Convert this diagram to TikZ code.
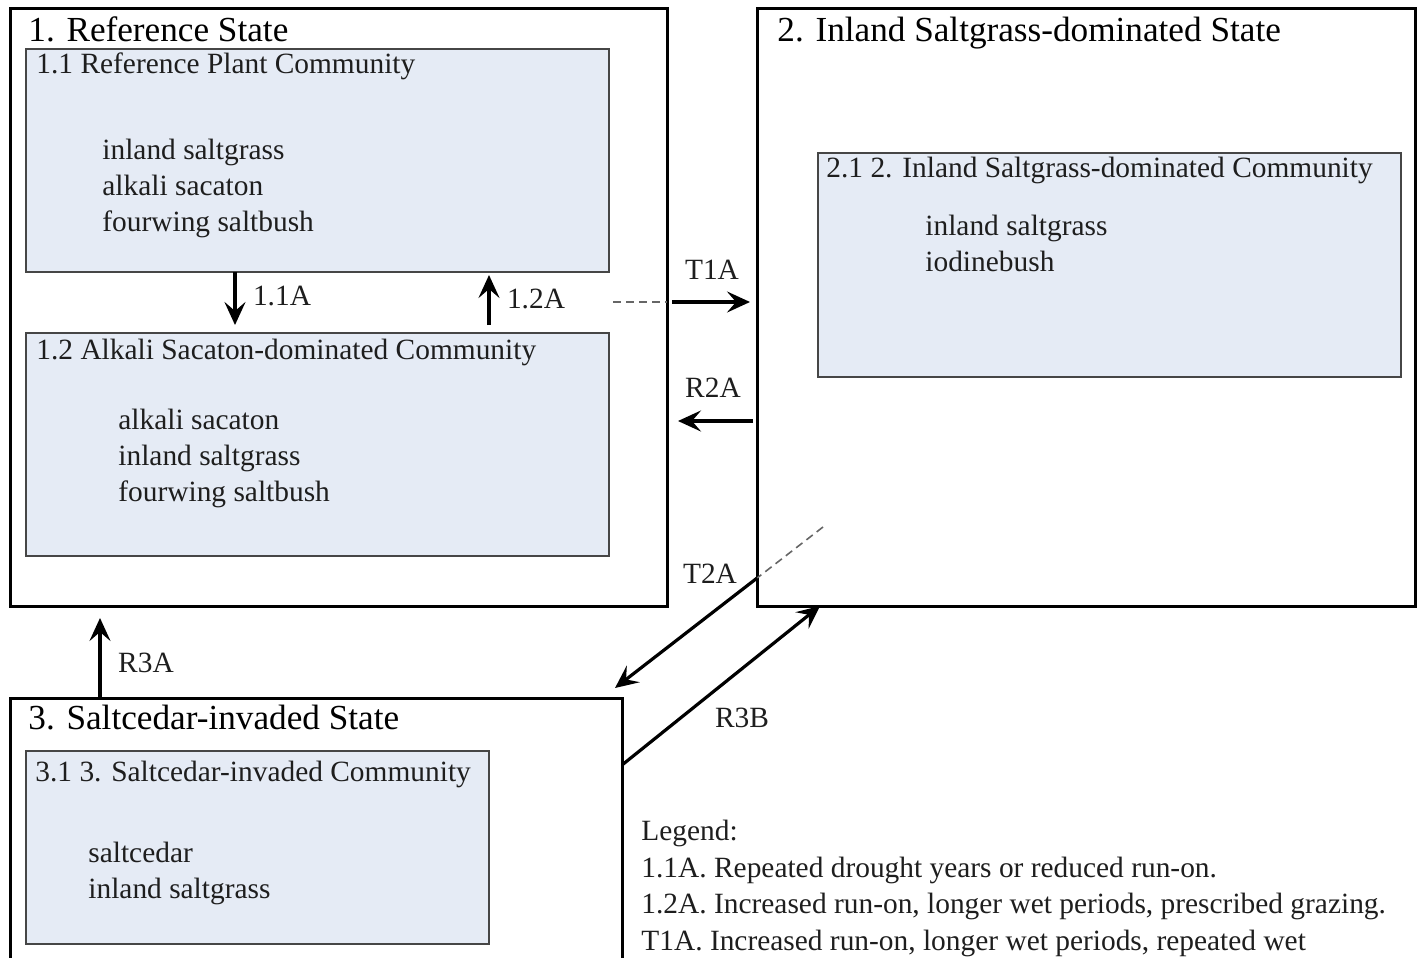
\documentclass[tikz,border=0pt]{standalone}
\usepackage{fontspec}
\setmainfont{Liberation Serif}
\usetikzlibrary{arrows.meta,calc}
\definecolor{commfill}{RGB}{229,235,245}
\definecolor{commline}{RGB}{70,70,70}
\definecolor{inkgray}{RGB}{30,30,30}

\begin{document}
\begin{tikzpicture}[x=0.5pt,y=-0.5pt,
    statebox/.style={draw=black,line width=1.5pt,inner sep=0pt,outer sep=0pt},
    commbox/.style={draw=commline,fill=commfill,line width=0.7pt,inner sep=0pt,outer sep=0pt},
    title/.style={anchor=base west,inner sep=0pt,font=\fontsize{17.6}{21}\selectfont},
    txt/.style={anchor=base west,inner sep=0pt,align=left,text=inkgray,font=\fontsize{14.7}{18}\selectfont},
    lbl/.style={anchor=base,inner sep=0pt,text=inkgray,font=\fontsize{14.7}{18}\selectfont},
    arr/.style={line width=1.6pt,-{Stealth[length=11.5pt,width=10.5pt,inset=4.5pt]}},
    dsh/.style={line width=0.8pt,dash pattern=on 4pt off 2.5pt,black!60}]
  \useasboundingbox (0,0) rectangle (1422,957);
  \clip (0,0) rectangle (1422,957);

  \node[statebox,minimum width=328.5pt,minimum height=298.5pt] (s1) at (338.5,307.5) {};
  \node[statebox,minimum width=329pt,minimum height=298.5pt] (s2) at (1086,307.5) {};
  \node[statebox,minimum width=306pt,minimum height=160pt] (s3) at (316,858) {};

  \node[commbox,minimum width=291.5pt,minimum height=111.5pt] (c11) at (317.5,160.5) {};
  \node[commbox,minimum width=291.5pt,minimum height=111.5pt] (c12) at (317.5,444.5) {};
  \node[commbox,minimum width=291.5pt,minimum height=112pt] (c21) at (1109.5,265) {};
  \node[commbox,minimum width=231.5pt,minimum height=96.5pt] (c31) at (257.5,847.5) {};

  \node[title] (t1) at (28,42) {1. Reference State};
  \node[txt] (n11) at (36,74) {1.1 Reference Plant Community};
  \node[txt] (p11) at (102,232) {inland saltgrass\\alkali sacaton\\fourwing saltbush};
  \node[txt] (n12) at (36,359) {1.2 Alkali Sacaton-dominated Community};
  \node[txt] (p12) at (118,501) {alkali sacaton\\inland saltgrass\\fourwing saltbush};

  \node[title] (t2) at (777,42) {2. Inland Saltgrass-dominated State};
  \node[txt] (n21) at (826,178) {2.1 2. Inland Saltgrass-dominated Community};
  \node[txt] (p21) at (925,271) {inland saltgrass\\iodinebush};

  \node[title] (t3) at (28,729) {3. Saltcedar-invaded State};
  \node[txt] (n31) at (35,781) {3.1 3. Saltcedar-invaded Community};
  \node[txt] (p31) at (88,898) {saltcedar\\inland saltgrass};

  \node[txt,font=\fontsize{14.7}{18.25}\selectfont] (leg) at (641,950) {Legend:\\1.1A. Repeated drought years or reduced run-on.\\1.2A. Increased run-on, longer wet periods, prescribed grazing.\\T1A. Increased run-on, longer wet periods, repeated wet};

  \draw[arr,shorten >=4pt] ([xshift=104.5pt]c11.south west) -- ([xshift=104.5pt]c12.north west);
  \draw[arr,shorten <=4pt,shorten >=1.5pt] ([xshift=231.5pt]c12.north west) -- ([xshift=231.5pt]c11.south west);

  \coordinate (t1s) at (613,302);
  \draw[dsh] (t1s) -- (s1.east |- t1s);
  \draw[arr,shorten <=2.5pt,shorten >=3.5pt] (s1.east |- t1s) -- (s2.west |- t1s);
  \draw[arr,shorten <=2pt,shorten >=5.5pt] ([yshift=-56.75pt]s2.west) -- ([yshift=-56.75pt]s1.east);

  \coordinate (t2s) at (823,527);
  \coordinate (t2e) at (615,688);
  \coordinate (t2m) at ($(t2s)!0.317!(t2e)$);
  \draw[dsh] (t2s) -- (t2m);
  \draw[arr] (t2m) -- (t2e);
  \draw[arr] ([yshift=-33.5pt]s3.north east) -- ([xshift=31.5pt]s2.south west);
  \draw[arr,shorten >=6pt] ([xshift=45pt]s3.north west) -- ([xshift=45pt]s1.south west);

  \node[lbl] (l11) at (282,305) {1.1A};
  \node[lbl] (l12) at (536,308) {1.2A};
  \node[lbl] (lt1) at (712,279) {T1A};
  \node[lbl] (lr2) at (713,397) {R2A};
  \node[lbl] (lt2) at (710,583) {T2A};
  \node[lbl] (lr3b) at (742,727) {R3B};
  \node[lbl] (lr3a) at (146,672) {R3A};
\end{tikzpicture}
\end{document}
